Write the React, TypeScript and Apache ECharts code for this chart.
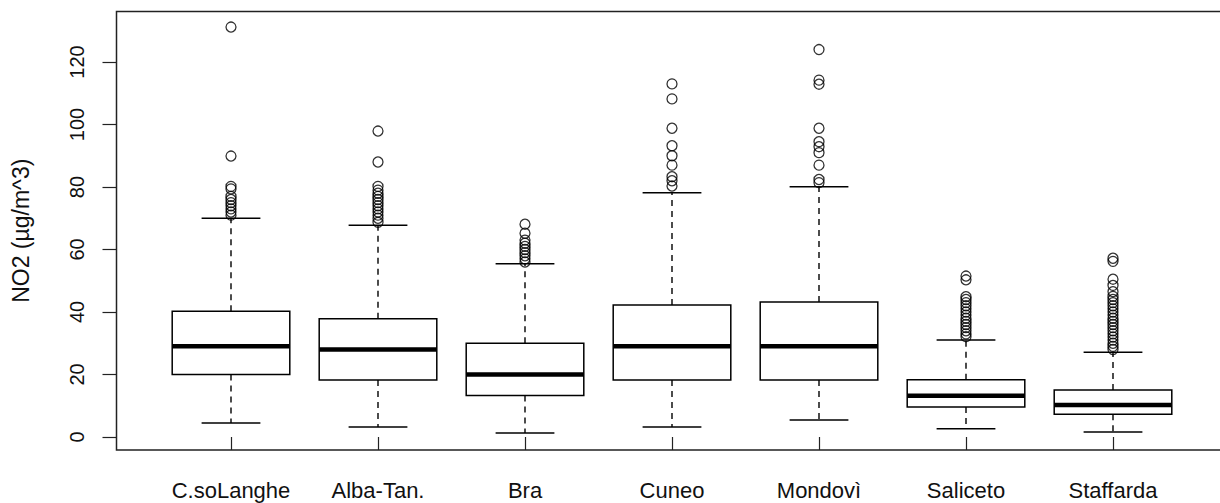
import React, { useEffect, useRef } from 'react';
import * as echarts from 'echarts';

const categories = ['C.soLanghe', 'Alba-Tan.', 'Bra', 'Cuneo', 'Mondovì', 'Saliceto', 'Staffarda'];
const lowerWhisker = [4.5, 3.2, 1.3, 3.2, 5.4, 2.6, 1.6];
const q1 = [20, 18.2, 13.3, 18.2, 18.2, 9.6, 7.3];
const median = [29, 28, 20, 29, 29, 13.2, 10.2];
const q3 = [40.2, 37.8, 30, 42.2, 43.2, 18.3, 15];
const upperWhisker = [70, 67.8, 55.4, 78.2, 80.1, 31, 27.1];

const outliersCsoLanghe = [131.2, 89.9, 80.2, 79.4, 77, 76, 75, 74, 73, 72, 71];
const outliersAlba = [97.9, 88, 80.2, 79, 78, 77, 76, 75, 74, 73, 72, 71, 70, 68.7];
const outliersBra = [68.1, 65.2, 63, 62, 61, 60, 59, 58, 57, 56];
const outliersCuneo = [113, 108.2, 98.8, 93.2, 90, 87, 83.3, 82, 80.3];
const outliersMondovi = [124, 114.2, 112.9, 98.8, 94.5, 92.9, 91, 87, 82.4, 81.4];
const outliersSaliceto = [51.5, 50.3, 44.9, 44, 43, 42, 41, 40, 39, 38, 37, 36, 35, 34, 33, 32.1];
const outliersStaffarda = [57.2, 56.2, 50.5, 48.5, 46.5, 45, 44, 43, 42, 41, 40, 39, 38, 37, 36, 35, 34, 33, 32, 31, 30, 29, 28];
const outliers = [outliersCsoLanghe, outliersAlba, outliersBra, outliersCuneo, outliersMondovi, outliersSaliceto, outliersStaffarda];

const yTicks = [0, 20, 40, 60, 80, 100, 120];

const FONT = '"Liberation Sans", Arial, sans-serif';

export default function App() {
  const ref = useRef<HTMLDivElement>(null);
  useEffect(() => {
    const chart = echarts.init(ref.current!, null, { renderer: 'svg' });
    const boxData = categories.map((_, i) => [i, lowerWhisker[i], q1[i], median[i], q3[i], upperWhisker[i]]);
    const outlierData: number[][] = [];
    outliers.forEach((arr, i) => arr.forEach((v) => outlierData.push([i, v])));

    const option: any = {
      animation: false,
      grid: { left: 157.5, width: 1029, top: 11.4, bottom: 52.9, containLabel: false },
      xAxis: {
        type: 'category',
        data: categories,
        boundaryGap: true,
        axisLine: { show: false },
        axisTick: { show: true, alignWithLabel: true, length: 13, lineStyle: { color: '#222', width: 1.2 } },
        axisLabel: { color: '#111', fontSize: 22, fontFamily: FONT, margin: 29, interval: 0 },
        splitLine: { show: false },
      },
      yAxis: {
        type: 'value',
        min: -4.2,
        max: 136.2,
        offset: 41,
        name: 'NO2 (µg/m^3)',
        nameLocation: 'middle',
        nameGap: 84,
        nameTextStyle: { color: '#111', fontSize: 23, fontFamily: FONT },
        axisLine: { show: false },
        axisTick: { show: true, length: 14, customValues: yTicks, lineStyle: { color: '#222', width: 1.2 } },
        axisLabel: { color: '#111', fontSize: 20, fontFamily: FONT, rotate: 90, margin: 30, customValues: yTicks },
        splitLine: { show: false },
      },
      graphic: [
        {
          type: 'rect',
          shape: { x: 116.5, y: 11.4, width: 1112, height: 438.7 },
          style: { fill: 'none', stroke: '#222', lineWidth: 1.5 },
          silent: true,
          z: 100,
        },
      ],
      series: [
        {
          type: 'custom',
          data: boxData,
          encode: { x: 0, y: [1, 2, 3, 4, 5] },
          renderItem: (params: any, api: any) => {
            const x = api.value(0);
            const pLo = api.coord([x, api.value(1)]);
            const pQ1 = api.coord([x, api.value(2)]);
            const pMed = api.coord([x, api.value(3)]);
            const pQ3 = api.coord([x, api.value(4)]);
            const pHi = api.coord([x, api.value(5)]);
            const band = api.size([1, 0])[0];
            const bw = band * 0.8;
            const cw = bw / 2;
            const cx = pMed[0];
            const solid = { stroke: '#000', lineWidth: 1.5, fill: 'none' };
            const dashed = { stroke: '#000', lineWidth: 1.4, lineDash: [6, 5] };
            return {
              type: 'group',
              children: [
                { type: 'line', shape: { x1: cx, y1: pQ3[1], x2: cx, y2: pHi[1] }, style: dashed },
                { type: 'line', shape: { x1: cx, y1: pQ1[1], x2: cx, y2: pLo[1] }, style: dashed },
                { type: 'line', shape: { x1: cx - cw / 2, y1: pHi[1], x2: cx + cw / 2, y2: pHi[1] }, style: solid },
                { type: 'line', shape: { x1: cx - cw / 2, y1: pLo[1], x2: cx + cw / 2, y2: pLo[1] }, style: solid },
                { type: 'rect', shape: { x: cx - bw / 2, y: pQ3[1], width: bw, height: pQ1[1] - pQ3[1] }, style: { stroke: '#000', lineWidth: 1.5, fill: '#fff' } },
                { type: 'line', shape: { x1: cx - bw / 2, y1: pMed[1], x2: cx + bw / 2, y2: pMed[1] }, style: { stroke: '#000', lineWidth: 4.5 } },
              ],
            };
          },
          z: 2,
        },
        {
          type: 'scatter',
          data: outlierData,
          symbol: 'circle',
          symbolSize: 10,
          itemStyle: { color: 'rgba(0,0,0,0)', borderColor: '#000', borderWidth: 1.3 },
          z: 3,
        },
      ],
    };
    chart.setOption(option);
    return () => chart.dispose();
  }, []);
  return <div ref={ref} style={{ position: 'absolute', left: 0, top: 0, width: 1220, height: 503 }} />;
}
